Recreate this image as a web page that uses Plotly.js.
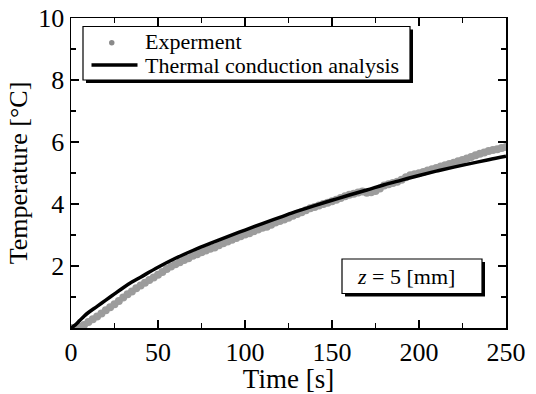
<!DOCTYPE html>
<html>
<head>
<meta charset="utf-8">
<script src="https://cdn.plot.ly/plotly-3.0.1.min.js"></script>
<style>html,body{margin:0;padding:0;background:#fff;}#chart{width:536px;height:394px;}</style>
</head>
<body>
<div id="chart"></div>
<script>
// Experiment (gray noisy band)
var expTime = [0,2.5,5,7.5,10,12.5,15,17.5,20,22.5,25,27.5,30,32.5,35,37.5,40,42.5,45,47.5,
  50,52.5,55,57.5,60,62.5,65,67.5,70,72.5,75,77.5,80,82.5,85,87.5,90,92.5,95,97.5,
  100,102.5,105,107.5,110,112.5,115,117.5,120,122.5,125,127.5,130,132.5,135,137.5,140,142.5,145,147.5,
  150,152.5,155,157.5,160,162.5,165,167.5,170,172.5,175,177.5,180,182.5,185,187.5,190,192.5,195,197.5,
  200,202.5,205,207.5,210,212.5,215,217.5,220,222.5,225,227.5,230,232.5,235,237.5,240,242.5,245,247.5,250];
var expTemp = [0.00,0.00,0.04,0.10,0.19,0.28,0.37,0.47,0.57,0.67,0.77,0.87,0.98,1.09,1.18,1.28,1.37,1.46,1.55,1.63,
  1.72,1.81,1.90,1.98,2.06,2.12,2.19,2.25,2.33,2.38,2.44,2.50,2.56,2.60,2.67,2.73,2.79,2.85,2.90,2.96,
  3.02,3.06,3.12,3.18,3.23,3.27,3.33,3.40,3.45,3.50,3.56,3.62,3.68,3.73,3.80,3.86,3.90,3.95,4.00,4.04,
  4.09,4.14,4.19,4.25,4.30,4.33,4.37,4.40,4.36,4.38,4.42,4.50,4.60,4.64,4.68,4.72,4.78,4.86,4.93,4.96,
  4.99,5.03,5.08,5.12,5.16,5.21,5.25,5.29,5.33,5.38,5.42,5.47,5.52,5.57,5.62,5.66,5.71,5.74,5.77,5.81,5.84];

// Thermal conduction analysis (black line)
var anaTime = [0,2.5,5,7.5,10,15,20,25,30,35,40,50,60,70,80,90,100,110,120,130,140,150,160,170,180,190,200,210,220,230,240,250];
var anaTemp = [0,0.10,0.24,0.38,0.50,0.70,0.90,1.10,1.30,1.48,1.64,1.96,2.25,2.50,2.73,2.95,3.16,3.37,3.57,3.77,3.95,4.12,4.29,4.45,4.62,4.77,4.92,5.06,5.19,5.31,5.43,5.54];

var xTicks = [0,50,100,150,200,250];
var yTicks = [2,4,6,8,10];
var seriesNames = ['Experment','Thermal conduction analysis'];
var noteText = '<i>z</i> = 5 [mm]';

var W = 536, H = 394, ML = 71, MR = 30, MT = 18, MB = 66;
var PW = W - ML - MR, PH = H - MT - MB;
function px(x){ return (x - ML) / PW; }
function py(y){ return (H - MB - y) / PH; }
var FONT = 'Liberation Serif, Times New Roman, serif';

var traces = [
  {x: expTime, y: expTemp, name: seriesNames[0], type: 'scatter', mode: 'markers',
   marker: {size: 8, color: '#9c9c9c', line: {width: 0}}, showlegend: false},
  {x: anaTime, y: anaTemp, name: seriesNames[1], type: 'scatter', mode: 'lines',
   line: {color: '#000', width: 3.5, shape: 'spline', smoothing: 1}, showlegend: false}
];

var shapes = [
  // legend shadow + box
  {type:'rect', xref:'paper', yref:'paper', x0:px(86), x1:px(413), y0:py(83), y1:py(29.5), fillcolor:'#000', line:{width:0}, layer:'above'},
  {type:'rect', xref:'paper', yref:'paper', x0:px(83), x1:px(410), y0:py(80), y1:py(26.5), fillcolor:'#fff', line:{color:'#000', width:1.2}, layer:'above'},
  // legend marker sample
  {type:'circle', xref:'paper', yref:'paper', x0:px(109), x1:px(114.5), y0:py(45.5), y1:py(40), fillcolor:'#8a8a8a', line:{width:0}, layer:'above'},
  // legend line sample
  {type:'line', xref:'paper', yref:'paper', x0:px(91.5), x1:px(137.5), y0:py(65), y1:py(65), line:{color:'#000', width:3.5}, layer:'above'},
  // note box shadow + box
  {type:'rect', xref:'paper', yref:'paper', x0:px(345), x1:px(485), y0:py(296.5), y1:py(262), fillcolor:'#000', line:{width:0}, layer:'above'},
  {type:'rect', xref:'paper', yref:'paper', x0:px(342), x1:px(482), y0:py(293.5), y1:py(259), fillcolor:'#fff', line:{color:'#000', width:1.2}, layer:'above'}
];

var annotations = [
  {xref:'paper', yref:'paper', x:px(143), y:py(42), xanchor:'left', yanchor:'middle', showarrow:false,
   text: seriesNames[0], font:{family:FONT, size:22, color:'#000'}},
  {xref:'paper', yref:'paper', x:px(143), y:py(66), xanchor:'left', yanchor:'middle', showarrow:false,
   text: seriesNames[1], font:{family:FONT, size:22, color:'#000'}},
  {xref:'paper', yref:'paper', x:px(406), y:py(276), xanchor:'center', yanchor:'middle', showarrow:false,
   text: noteText, font:{family:FONT, size:22, color:'#000'}}
];

var axisCommon = {
  showline: true, linecolor: '#000', linewidth: 1.5, mirror: 'ticks',
  ticks: 'inside', ticklen: 8, tickwidth: 1.3, tickcolor: '#000',
  showgrid: false, zeroline: false,
  tickfont: {family: FONT, size: 26, color: '#000'}
};

var layout = {
  width: W, height: H,
  margin: {l: ML, r: MR, t: MT, b: MB},
  paper_bgcolor: '#fff', plot_bgcolor: '#fff',
  showlegend: false,
  xaxis: Object.assign({}, axisCommon, {
    range: [0, 250], tickvals: xTicks, ticktext: xTicks.map(String),
    minor: {dtick: 25, tick0: 0, ticks: 'inside', ticklen: 5, tickwidth: 1.2, tickcolor: '#000', showgrid: false},
    title: {text: 'Time [s]', font: {family: FONT, size: 27, color: '#000'}, standoff: 1},
    automargin: false
  }),
  yaxis: Object.assign({}, axisCommon, {
    range: [0, 10], tickvals: yTicks, ticktext: yTicks.map(String),
    minor: {dtick: 1, tick0: 0, ticks: 'inside', ticklen: 5, tickwidth: 1.2, tickcolor: '#000', showgrid: false},
    title: {text: 'Temperature [°C]', font: {family: FONT, size: 26, color: '#000'}, standoff: 3},
    automargin: false
  }),
  shapes: shapes,
  annotations: annotations
};

Plotly.newPlot('chart', traces, layout, {displayModeBar: false, staticPlot: true});
</script>
</body>
</html>
